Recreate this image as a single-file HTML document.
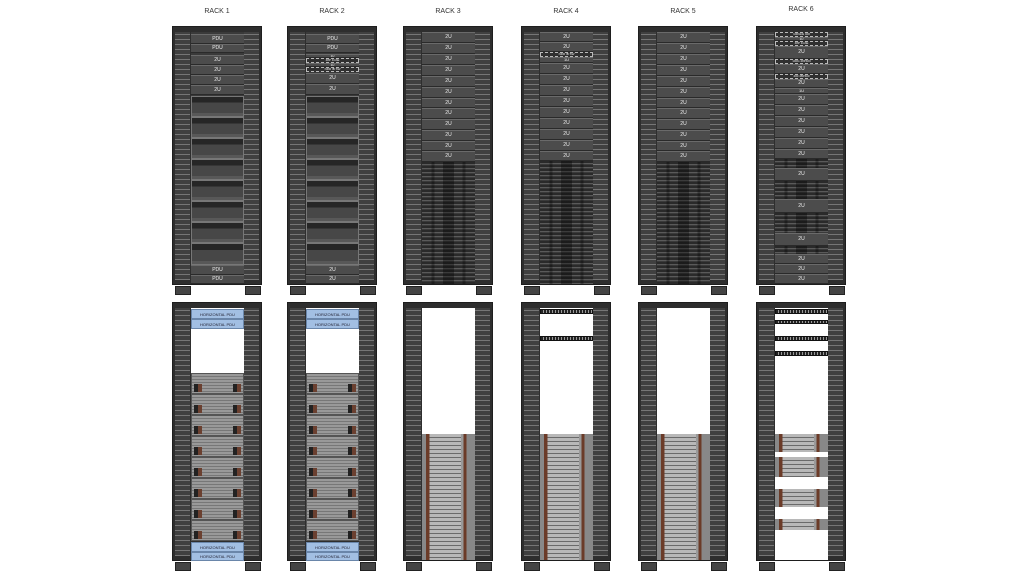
<!DOCTYPE html>
<html><head><meta charset="utf-8"><style>
body{margin:0;width:1024px;height:576px;background:#fff;position:relative;overflow:hidden;font-family:"Liberation Sans",sans-serif}
.lbl{position:absolute;width:90px;text-align:center;font-size:7px;color:#333;top:8px}
.rack{position:absolute;width:90px;height:259px;background:#2e2e2e;box-sizing:border-box;border:1px solid #1e1e1e}
.rail{position:absolute;top:5px;bottom:4px;width:15px;background:repeating-linear-gradient(#404040 0 2px,#767676 2px 3px,#404040 3px 5px)}
.rl{left:2px}.rr{left:71px}
.in{position:absolute;left:18px;width:53px;top:5px;bottom:3px;background:#3a3a3a}
.foot{position:absolute;top:259px;width:14px;height:7px;background:#444;border:1px solid #222}
.u{position:absolute;left:18px;width:53px;box-sizing:border-box;background:#4c4c4c;border-top:1px solid #6a6a6a;border-bottom:1px solid #2a2a2a;color:#eee;font-size:5px;display:flex;align-items:center;justify-content:center;line-height:1;overflow:hidden}
.d{background:#303030;border:1px dashed #bbb;font-size:3px}
.ch{position:absolute;left:18px;width:53px;box-sizing:border-box;border:1px solid #777;background:linear-gradient(#262626 0 30%,#474747 30% 85%,#585858 85%)}
.dn{position:absolute;left:18px;width:53px;background:repeating-linear-gradient(#2a2a2a 0 2px,#5a5a5a 2px 3px,#3a3a3a 3px 4px),#3a3a3a}
.dn::after{content:"";position:absolute;inset:0;background:linear-gradient(90deg,transparent 0 18%,rgba(0,0,0,.3) 18% 24%,transparent 24% 40%,rgba(0,0,0,.35) 40% 60%,transparent 60% 76%,rgba(0,0,0,.3) 76% 82%,transparent 82%)}
.w{position:absolute;left:18px;width:53px;background:#fff}
.bp{position:absolute;left:18px;width:53px;box-sizing:border-box;background:#a2bfe3;border:1px solid #6a86aa;color:#223;font-size:4px;display:flex;align-items:center;justify-content:center}
.ls{position:absolute;left:18px;width:53px;box-sizing:border-box;border:1px solid #555;background:repeating-linear-gradient(#999 0 2px,#777 2px 3px)}
.ls::before{content:"";position:absolute;left:2px;top:10px;width:8px;height:8px;background:linear-gradient(90deg,#222 0 50%,#6b4030 50%)}
.ls::after{content:"";position:absolute;right:2px;top:10px;width:8px;height:8px;background:linear-gradient(90deg,#222 0 50%,#6b4030 50%)}
.ld{position:absolute;left:18px;width:53px;background:repeating-linear-gradient(#b8b8b8 0 3px,#6a6a6a 3px 4px)}
.ld::after{content:"";position:absolute;inset:0;background:linear-gradient(90deg,#888 0 8%,#6b3b28 8% 14%,transparent 14% 74%,#999 74% 78%,#6b3b28 78% 84%,#888 84%)}
.bar{position:absolute;left:18px;width:53px;height:5px;box-sizing:border-box;background:repeating-linear-gradient(90deg,#222 0 2px,#999 2px 3px);border:1px solid #111}
</style></head><body>
<div class="lbl" style="left:172px">RACK 1</div>
<div class="lbl" style="left:287px">RACK 2</div>
<div class="lbl" style="left:403px">RACK 3</div>
<div class="lbl" style="left:521px">RACK 4</div>
<div class="lbl" style="left:638px">RACK 5</div>
<div class="lbl" style="left:756px;top:6px">RACK 6</div>

<div class="rack" style="left:172px;top:26px"><div class="rail rl"></div><div class="rail rr"></div><div class="in"></div>
<div class="u" style="top:7px;height:10px">PDU</div><div class="u" style="top:17px;height:9px">PDU</div>
<div class="u" style="top:28px;height:10px">2U</div><div class="u" style="top:38px;height:10px">2U</div><div class="u" style="top:48px;height:10px">2U</div><div class="u" style="top:58px;height:10px">2U</div>
<div class="ch" style="top:69px;height:21px"></div><div class="ch" style="top:90px;height:21px"></div><div class="ch" style="top:111px;height:21px"></div><div class="ch" style="top:132px;height:21px"></div><div class="ch" style="top:153px;height:21px"></div><div class="ch" style="top:174px;height:21px"></div><div class="ch" style="top:195px;height:21px"></div><div class="ch" style="top:216px;height:22px"></div>
<div class="u" style="top:238px;height:10px">PDU</div><div class="u" style="top:248px;height:9px">PDU</div>
<div class="foot" style="left:2px"></div><div class="foot" style="left:72px"></div></div>

<div class="rack" style="left:287px;top:26px"><div class="rail rl"></div><div class="rail rr"></div><div class="in"></div>
<div class="u" style="top:7px;height:10px">PDU</div><div class="u" style="top:17px;height:9px">PDU</div>
<div class="u" style="top:27px;height:4px;font-size:3px">1U</div><div class="u d" style="top:31px;height:5px">48P 1GbE</div><div class="u" style="top:36px;height:4px;font-size:3px">1U</div><div class="u d" style="top:40px;height:5px">NDR IB SW</div>
<div class="u" style="top:46px;height:11px">2U</div><div class="u" style="top:57px;height:11px">2U</div>
<div class="ch" style="top:69px;height:21px"></div><div class="ch" style="top:90px;height:21px"></div><div class="ch" style="top:111px;height:21px"></div><div class="ch" style="top:132px;height:21px"></div><div class="ch" style="top:153px;height:21px"></div><div class="ch" style="top:174px;height:21px"></div><div class="ch" style="top:195px;height:21px"></div><div class="ch" style="top:216px;height:22px"></div>
<div class="u" style="top:238px;height:10px">2U</div><div class="u" style="top:248px;height:9px">2U</div>
<div class="foot" style="left:2px"></div><div class="foot" style="left:72px"></div></div>

<div class="rack" style="left:403px;top:26px"><div class="rail rl"></div><div class="rail rr"></div><div class="in"></div>
<div class="u" style="top:5px;height:11px">2U</div><div class="u" style="top:16px;height:11px">2U</div><div class="u" style="top:27px;height:11px">2U</div><div class="u" style="top:38px;height:11px">2U</div><div class="u" style="top:49px;height:11px">2U</div><div class="u" style="top:60px;height:11px">2U</div><div class="u" style="top:71px;height:10px">2U</div><div class="u" style="top:81px;height:11px">2U</div><div class="u" style="top:92px;height:11px">2U</div><div class="u" style="top:103px;height:11px">2U</div><div class="u" style="top:114px;height:10px">2U</div><div class="u" style="top:124px;height:11px">2U</div>
<div class="dn" style="top:135px;height:122px"></div>
<div class="foot" style="left:2px"></div><div class="foot" style="left:72px"></div></div>

<div class="rack" style="left:521px;top:26px"><div class="rail rl"></div><div class="rail rr"></div><div class="in"></div>
<div class="u" style="top:5px;height:10px">2U</div><div class="u" style="top:15px;height:10px">2U</div><div class="u d" style="top:25px;height:5px">NDR IB SW</div><div class="u" style="top:30px;height:6px;font-size:4px">1U</div>
<div class="u" style="top:36px;height:11px">2U</div><div class="u" style="top:47px;height:11px">2U</div><div class="u" style="top:58px;height:11px">2U</div><div class="u" style="top:69px;height:11px">2U</div><div class="u" style="top:80px;height:11px">2U</div><div class="u" style="top:91px;height:11px">2U</div><div class="u" style="top:102px;height:11px">2U</div><div class="u" style="top:113px;height:11px">2U</div><div class="u" style="top:124px;height:10px">2U</div>
<div class="dn" style="top:134px;height:123px"></div>
<div class="foot" style="left:2px"></div><div class="foot" style="left:72px"></div></div>

<div class="rack" style="left:638px;top:26px"><div class="rail rl"></div><div class="rail rr"></div><div class="in"></div>
<div class="u" style="top:5px;height:11px">2U</div><div class="u" style="top:16px;height:11px">2U</div><div class="u" style="top:27px;height:11px">2U</div><div class="u" style="top:38px;height:11px">2U</div><div class="u" style="top:49px;height:11px">2U</div><div class="u" style="top:60px;height:11px">2U</div><div class="u" style="top:71px;height:10px">2U</div><div class="u" style="top:81px;height:11px">2U</div><div class="u" style="top:92px;height:11px">2U</div><div class="u" style="top:103px;height:11px">2U</div><div class="u" style="top:114px;height:10px">2U</div><div class="u" style="top:124px;height:11px">2U</div>
<div class="dn" style="top:135px;height:122px"></div>
<div class="foot" style="left:2px"></div><div class="foot" style="left:72px"></div></div>

<div class="rack" style="left:756px;top:26px"><div class="rail rl"></div><div class="rail rr"></div><div class="in"></div>
<div class="u d" style="top:5px;height:5px">100GbE 400</div><div class="u" style="top:10px;height:4px;font-size:3px">1U</div><div class="u d" style="top:14px;height:5px">48P 1GbE</div>
<div class="u" style="top:19px;height:13px">2U</div><div class="u d" style="top:32px;height:5px">100G 48P400</div>
<div class="u" style="top:37px;height:10px">2U</div><div class="u d" style="top:47px;height:5px">400 48P400</div>
<div class="u" style="top:52px;height:9px">2U</div><div class="u" style="top:61px;height:6px;font-size:4px">1U</div>
<div class="u" style="top:67px;height:11px">2U</div><div class="u" style="top:78px;height:11px">2U</div><div class="u" style="top:89px;height:11px">2U</div><div class="u" style="top:100px;height:11px">2U</div><div class="u" style="top:111px;height:11px">2U</div><div class="u" style="top:122px;height:10px">2U</div>
<div class="dn" style="top:132px;height:9px"></div><div class="u" style="top:141px;height:13px">2U</div>
<div class="dn" style="top:154px;height:18px"></div><div class="u" style="top:172px;height:14px">2U</div>
<div class="dn" style="top:186px;height:20px"></div><div class="u" style="top:206px;height:13px">2U</div>
<div class="dn" style="top:219px;height:8px"></div>
<div class="u" style="top:227px;height:10px">2U</div><div class="u" style="top:237px;height:10px">2U</div><div class="u" style="top:247px;height:10px">2U</div>
<div class="foot" style="left:2px"></div><div class="foot" style="left:72px"></div></div>

<div class="rack" style="left:172px;top:302px"><div class="rail rl"></div><div class="rail rr"></div><div class="w" style="top:5px;height:67px"></div>
<div class="bp" style="top:6px;height:10px">HORIZONTAL PDU</div><div class="bp" style="top:16px;height:10px">HORIZONTAL PDU</div>
<div class="ls" style="top:70px;height:21px"></div><div class="ls" style="top:91px;height:21px"></div><div class="ls" style="top:112px;height:21px"></div><div class="ls" style="top:133px;height:21px"></div><div class="ls" style="top:154px;height:21px"></div><div class="ls" style="top:175px;height:21px"></div><div class="ls" style="top:196px;height:21px"></div><div class="ls" style="top:217px;height:21px"></div>
<div class="bp" style="top:239px;height:10px">HORIZONTAL PDU</div><div class="bp" style="top:249px;height:9px">HORIZONTAL PDU</div>
<div class="foot" style="left:2px"></div><div class="foot" style="left:72px"></div></div>

<div class="rack" style="left:287px;top:302px"><div class="rail rl"></div><div class="rail rr"></div><div class="w" style="top:5px;height:67px"></div>
<div class="bp" style="top:6px;height:10px">HORIZONTAL PDU</div><div class="bp" style="top:16px;height:10px">HORIZONTAL PDU</div>
<div class="ls" style="top:70px;height:21px"></div><div class="ls" style="top:91px;height:21px"></div><div class="ls" style="top:112px;height:21px"></div><div class="ls" style="top:133px;height:21px"></div><div class="ls" style="top:154px;height:21px"></div><div class="ls" style="top:175px;height:21px"></div><div class="ls" style="top:196px;height:21px"></div><div class="ls" style="top:217px;height:21px"></div>
<div class="bp" style="top:239px;height:10px">HORIZONTAL PDU</div><div class="bp" style="top:249px;height:9px">HORIZONTAL PDU</div>
<div class="foot" style="left:2px"></div><div class="foot" style="left:72px"></div></div>

<div class="rack" style="left:403px;top:302px"><div class="rail rl"></div><div class="rail rr"></div><div class="w" style="top:5px;height:126px"></div>
<div class="ld" style="top:131px;height:126px"></div>
<div class="foot" style="left:2px"></div><div class="foot" style="left:72px"></div></div>

<div class="rack" style="left:521px;top:302px"><div class="rail rl"></div><div class="rail rr"></div><div class="w" style="top:5px;height:126px"></div>
<div class="bar" style="top:6px"></div><div class="bar" style="top:33px"></div>
<div class="ld" style="top:131px;height:126px"></div>
<div class="foot" style="left:2px"></div><div class="foot" style="left:72px"></div></div>

<div class="rack" style="left:638px;top:302px"><div class="rail rl"></div><div class="rail rr"></div><div class="w" style="top:5px;height:126px"></div>
<div class="ld" style="top:131px;height:126px"></div>
<div class="foot" style="left:2px"></div><div class="foot" style="left:72px"></div></div>

<div class="rack" style="left:756px;top:302px"><div class="rail rl"></div><div class="rail rr"></div><div class="w" style="top:5px;height:252px"></div>
<div class="bar" style="top:6px"></div><div class="bar" style="top:17px;height:4px"></div><div class="bar" style="top:33px"></div><div class="bar" style="top:48px"></div>
<div class="ld" style="top:131px;height:18px"></div><div class="ld" style="top:154px;height:20px"></div><div class="ld" style="top:186px;height:18px"></div><div class="ld" style="top:216px;height:11px"></div>
<div class="foot" style="left:2px"></div><div class="foot" style="left:72px"></div></div>
</body></html>
